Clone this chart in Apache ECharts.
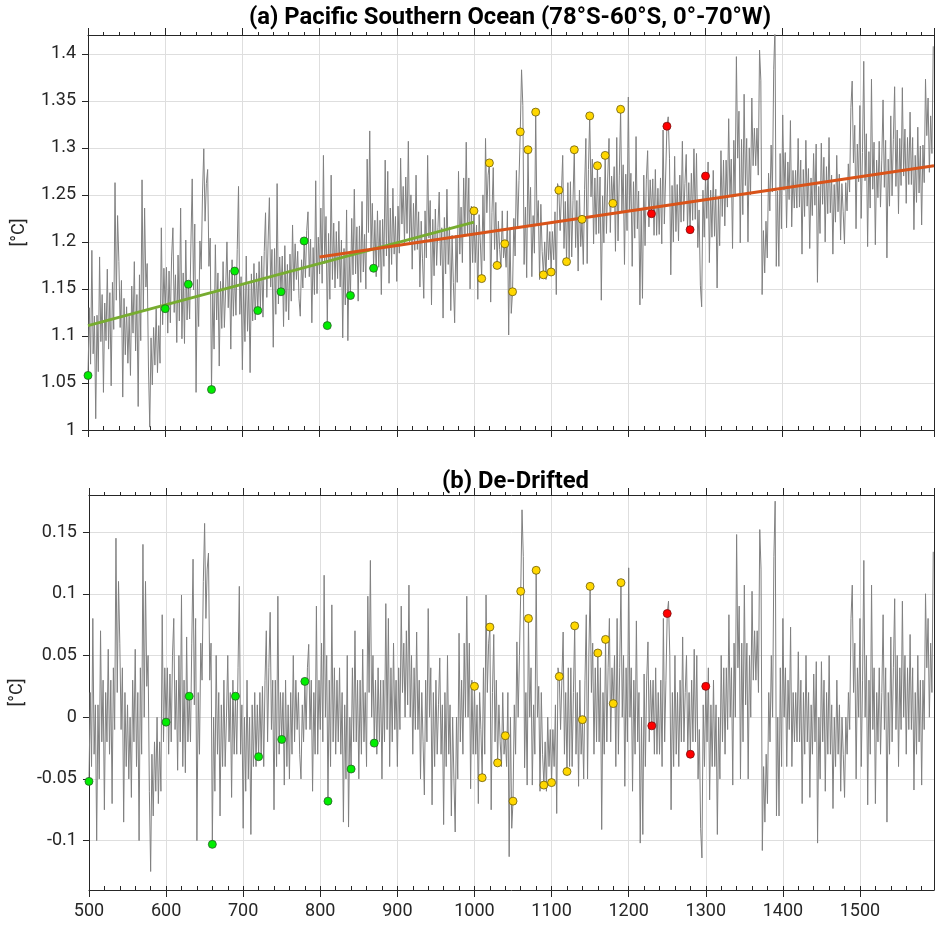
<!DOCTYPE html>
<html><head><meta charset="utf-8">
<script src="https://cdn.jsdelivr.net/npm/echarts@6/dist/echarts.min.js"></script>
<style>html,body{margin:0;padding:0;background:#fff}#c{width:935px;height:926px}</style>
</head><body><div id="c"></div>
<script>
// ---- data: samples every 5/3 year starting at 500 ----
const startYear = 500, stepYear = 5 / 3;
const rawTemp = [
1.058,1.130,1.070,1.191,1.081,1.121,1.012,1.122,1.062,1.184,1.094,1.144,1.040,1.135,1.095,
1.171,1.086,1.146,1.047,1.157,1.107,1.263,1.138,1.228,1.179,1.109,1.159,1.035,1.140,1.080,
1.131,1.071,1.121,1.058,1.153,1.103,1.179,1.084,1.144,1.025,1.165,1.095,1.266,1.126,1.236,
1.152,1.177,1.067,1.003,1.098,1.048,1.109,1.069,1.129,1.061,1.111,1.071,1.215,1.112,1.172,
1.129,1.173,1.103,1.169,1.114,1.184,1.215,1.125,1.165,1.093,1.186,1.116,1.236,1.097,1.167,
1.092,1.202,1.117,1.155,1.118,1.198,1.267,1.149,1.219,1.040,1.160,1.110,1.201,1.171,1.251,
1.299,1.222,1.262,1.277,1.174,1.204,1.043,1.146,1.086,1.197,1.117,1.167,1.068,1.158,1.108,
1.179,1.109,1.149,1.200,1.130,1.170,1.086,1.181,1.121,1.169,1.122,1.192,1.259,1.123,1.163,
1.064,1.154,1.094,1.185,1.105,1.155,1.061,1.166,1.116,1.177,1.117,1.167,1.127,1.179,1.129,
1.185,1.120,1.190,1.231,1.141,1.201,1.247,1.152,1.192,1.088,1.193,1.123,1.262,1.134,1.184,
1.147,1.185,1.110,1.196,1.126,1.176,1.117,1.187,1.137,1.218,1.148,1.198,1.160,1.190,1.140,
1.121,1.181,1.151,1.201,1.162,1.212,1.232,1.163,1.203,1.114,1.194,1.144,1.265,1.145,1.205,
1.166,1.236,1.156,1.292,1.177,1.227,1.111,1.209,1.139,1.271,1.160,1.220,1.151,1.211,1.161,
1.222,1.152,1.202,1.098,1.193,1.133,1.234,1.095,1.184,1.143,1.225,1.165,1.256,1.166,1.216,
1.137,1.217,1.157,1.243,1.168,1.208,1.150,1.288,1.210,1.318,1.191,1.241,1.172,1.223,1.163,
1.233,1.173,1.223,1.144,1.224,1.174,1.287,1.185,1.275,1.156,1.236,1.176,1.257,1.187,1.227,
1.158,1.238,1.188,1.289,1.219,1.259,1.199,1.269,1.209,1.307,1.200,1.250,1.171,1.241,1.191,
1.271,1.192,1.232,1.152,1.222,1.182,1.140,1.233,1.183,1.292,1.204,1.244,1.133,1.224,1.164,
1.235,1.175,1.215,1.253,1.175,1.215,1.119,1.226,1.166,1.256,1.176,1.216,1.127,1.207,1.157,
1.114,1.207,1.157,1.275,1.187,1.237,1.178,1.268,1.208,1.306,1.208,1.268,1.150,1.238,1.178,
1.233,1.178,1.218,1.139,1.229,1.199,1.161,1.250,1.180,1.310,1.231,1.271,1.284,1.136,1.231,
1.279,1.192,1.242,1.175,1.222,1.192,1.173,1.233,1.183,1.198,1.173,1.233,1.101,1.214,1.124,
1.147,1.225,1.185,1.276,1.215,1.265,1.317,1.383,1.345,1.176,1.237,1.162,1.298,1.218,1.258,
1.163,1.228,1.188,1.338,1.219,1.244,1.160,1.240,1.190,1.165,1.200,1.160,1.221,1.181,1.211,
1.168,1.211,1.181,1.232,1.144,1.262,1.255,1.212,1.252,1.292,1.193,1.243,1.179,1.263,1.183,
1.264,1.184,1.244,1.298,1.194,1.244,1.169,1.255,1.195,1.224,1.176,1.256,1.310,1.177,1.277,
1.334,1.248,1.288,1.198,1.268,1.208,1.281,1.209,1.269,1.138,1.249,1.199,1.292,1.209,1.269,
1.310,1.210,1.270,1.241,1.280,1.190,1.311,1.201,1.271,1.341,1.232,1.282,1.176,1.272,1.212,
1.354,1.233,1.273,1.174,1.264,1.204,1.312,1.214,1.254,1.133,1.235,1.140,1.271,1.196,1.266,
1.297,1.216,1.266,1.230,1.267,1.207,1.277,1.207,1.257,1.208,1.268,1.198,1.319,1.219,1.269,
1.323,1.333,1.289,1.165,1.260,1.200,1.291,1.211,1.261,1.201,1.271,1.221,1.307,1.222,1.262,
1.293,1.213,1.263,1.213,1.273,1.223,1.299,1.224,1.294,1.194,1.234,1.154,1.131,1.255,1.205,
1.270,1.225,1.285,1.178,1.255,1.205,1.276,1.206,1.256,1.151,1.246,1.196,1.297,1.227,1.287,
1.217,1.287,1.237,1.331,1.248,1.288,1.193,1.308,1.248,1.397,1.289,1.339,1.199,1.309,1.229,
1.357,1.260,1.310,1.200,1.300,1.250,1.353,1.281,1.321,1.281,1.321,1.271,1.404,1.372,1.144,
1.212,1.167,1.222,1.183,1.273,1.233,1.303,1.253,1.383,1.429,1.174,1.254,1.174,1.294,1.214,
1.335,1.255,1.295,1.215,1.285,1.245,1.329,1.216,1.276,1.236,1.276,1.236,1.310,1.237,1.287,
1.187,1.277,1.227,1.308,1.238,1.278,1.193,1.268,1.228,1.294,1.239,1.304,1.157,1.259,1.209,
1.305,1.240,1.290,1.200,1.280,1.230,1.311,1.231,1.271,1.187,1.261,1.221,1.292,1.232,1.272,
1.202,1.262,1.232,1.198,1.263,1.233,1.283,1.253,1.343,1.371,1.284,1.324,1.214,1.304,1.264,
1.345,1.225,1.295,1.392,1.265,1.315,1.195,1.296,1.236,1.373,1.256,1.306,1.197,1.287,1.247,
1.307,1.237,1.287,1.351,1.258,1.308,1.183,1.288,1.238,1.334,1.249,1.309,1.365,1.259,1.319,
1.230,1.310,1.260,1.364,1.270,1.320,1.241,1.311,1.261,1.338,1.261,1.311,1.213,1.292,1.242,
1.322,1.252,1.302,1.218,1.303,1.263,1.373,1.313,1.353,1.274,1.334,1.294,1.408
];
const dedriftTemp = [
-0.052,0.020,-0.040,0.080,-0.030,0.010,-0.100,0.010,-0.050,0.070,-0.020,0.030,-0.075,0.020,-0.020,
0.055,-0.030,0.030,-0.070,0.040,-0.010,0.145,0.020,0.110,0.060,-0.010,0.040,-0.085,0.020,-0.040,
0.010,-0.050,0.000,-0.065,0.030,-0.020,0.055,-0.040,0.020,-0.100,0.040,-0.030,0.140,0.000,0.110,
0.025,0.050,-0.060,-0.125,-0.030,-0.080,-0.020,-0.060,0.000,-0.070,-0.020,-0.060,0.083,-0.020,0.040,
-0.004,0.040,-0.030,0.035,-0.020,0.050,0.080,-0.010,0.030,-0.043,0.050,-0.020,0.099,-0.040,0.030,
-0.045,0.065,-0.020,0.017,-0.020,0.060,0.128,0.010,0.080,-0.100,0.020,-0.030,0.060,0.030,0.110,
0.157,0.080,0.120,0.133,0.030,0.060,-0.103,0.000,-0.060,0.050,-0.030,0.020,-0.080,0.010,-0.040,
0.030,-0.040,0.000,0.050,-0.020,0.020,-0.065,0.030,-0.030,0.017,-0.030,0.040,0.106,-0.030,0.010,
-0.090,0.000,-0.060,0.030,-0.050,0.000,-0.095,0.010,-0.040,0.020,-0.040,0.010,-0.032,0.020,-0.030,
0.025,-0.040,0.030,0.070,-0.020,0.040,0.085,-0.010,0.030,-0.075,0.030,-0.040,0.098,-0.030,0.020,
-0.018,0.020,-0.055,0.030,-0.040,0.010,-0.050,0.020,-0.030,0.050,-0.020,0.030,-0.010,0.020,-0.030,
-0.050,0.010,-0.020,0.029,-0.010,0.040,0.059,-0.010,0.030,-0.060,0.020,-0.030,0.090,-0.030,0.030,
-0.010,0.060,-0.020,0.115,0.000,0.050,-0.068,0.030,-0.040,0.091,-0.020,0.040,-0.030,0.030,-0.020,
0.040,-0.030,0.020,-0.085,0.010,-0.050,0.050,-0.089,0.000,-0.042,0.040,-0.020,0.070,-0.020,0.030,
-0.050,0.030,-0.030,0.055,-0.020,0.020,-0.040,0.098,0.020,0.127,0.000,0.050,-0.021,0.030,-0.030,
0.040,-0.020,0.030,-0.050,0.030,-0.020,0.092,-0.010,0.080,-0.040,0.040,-0.020,0.060,-0.010,0.030,
-0.040,0.040,-0.010,0.090,0.020,0.060,0.000,0.070,0.010,0.107,0.000,0.050,-0.030,0.040,-0.010,
0.069,-0.010,0.030,-0.050,0.020,-0.020,-0.063,0.030,-0.020,0.088,0.000,0.040,-0.071,0.020,-0.040,
0.030,-0.030,0.010,0.048,-0.030,0.010,-0.087,0.020,-0.040,0.050,-0.030,0.010,-0.080,0.000,-0.050,
-0.093,0.000,-0.050,0.068,-0.020,0.030,-0.030,0.060,0.000,0.098,0.000,0.060,-0.058,0.030,-0.030,
0.025,-0.030,0.010,-0.070,0.020,-0.010,-0.049,0.040,-0.030,0.099,0.020,0.060,0.073,-0.075,0.020,
0.067,-0.020,0.030,-0.037,0.010,-0.020,-0.040,0.020,-0.030,-0.015,-0.040,0.020,-0.113,0.000,-0.090,
-0.068,0.010,-0.030,0.061,0.000,0.050,0.102,0.168,0.130,-0.041,0.020,-0.055,0.080,0.000,0.040,
-0.055,0.010,-0.030,0.119,0.000,0.025,-0.060,0.020,-0.030,-0.055,-0.020,-0.060,0.000,-0.040,-0.010,
-0.053,-0.010,-0.040,0.010,-0.078,0.040,0.033,-0.010,0.030,0.069,-0.030,0.020,-0.044,0.040,-0.040,
0.040,-0.040,0.020,0.074,-0.030,0.020,-0.056,0.030,-0.030,-0.002,-0.050,0.030,0.083,-0.050,0.050,
0.106,0.020,0.060,-0.030,0.040,-0.020,0.052,-0.020,0.040,-0.091,0.020,-0.030,0.063,-0.020,0.040,
0.080,-0.020,0.040,0.011,0.050,-0.040,0.080,-0.030,0.040,0.109,0.000,0.050,-0.056,0.040,-0.020,
0.121,0.000,0.040,-0.060,0.030,-0.030,0.078,-0.020,0.020,-0.102,0.000,-0.095,0.035,-0.040,0.030,
0.061,-0.020,0.030,-0.007,0.030,-0.030,0.040,-0.030,0.020,-0.030,0.030,-0.040,0.080,-0.020,0.030,
0.084,0.094,0.050,-0.075,0.020,-0.040,0.050,-0.030,0.020,-0.040,0.030,-0.020,0.065,-0.020,0.020,
0.050,-0.030,0.020,-0.030,0.030,-0.020,0.055,-0.020,0.050,-0.050,-0.010,-0.090,-0.114,0.010,-0.040,
0.025,-0.020,0.040,-0.067,0.010,-0.040,0.030,-0.040,0.010,-0.095,0.000,-0.050,0.050,-0.020,0.040,
-0.030,0.040,-0.010,0.083,0.000,0.040,-0.055,0.060,0.000,0.148,0.040,0.090,-0.050,0.060,-0.020,
0.107,0.010,0.060,-0.050,0.050,0.000,0.102,0.030,0.070,0.030,0.070,0.020,0.152,0.120,-0.108,
-0.040,-0.085,-0.030,-0.070,0.020,-0.020,0.050,0.000,0.130,0.175,-0.080,0.000,-0.080,0.040,-0.040,
0.080,0.000,0.040,-0.040,0.030,-0.010,0.073,-0.040,0.020,-0.020,0.020,-0.020,0.053,-0.020,0.030,
-0.070,0.020,-0.030,0.050,-0.020,0.020,-0.065,0.010,-0.030,0.035,-0.020,0.045,-0.102,0.000,-0.050,
0.045,-0.020,0.030,-0.060,0.020,-0.030,0.050,-0.030,0.010,-0.074,0.000,-0.040,0.030,-0.030,0.010,
-0.060,0.000,-0.030,-0.065,0.000,-0.030,0.020,-0.010,0.080,0.107,0.020,0.060,-0.050,0.040,0.000,
0.080,-0.040,0.030,0.127,0.000,0.050,-0.071,0.030,-0.030,0.107,-0.010,0.040,-0.070,0.020,-0.020,
0.040,-0.030,0.020,0.083,-0.010,0.040,-0.085,0.020,-0.030,0.065,-0.020,0.040,0.096,-0.010,0.050,
-0.040,0.040,-0.010,0.094,0.000,0.050,-0.030,0.040,-0.010,0.067,-0.010,0.040,-0.059,0.020,-0.030,
0.050,-0.020,0.030,-0.055,0.030,-0.010,0.100,0.040,0.080,0.000,0.060,0.020,0.134
];
const greenYears = [500,600,630,660,690,720,750,780,810,840,870];
const greenTop = [1.058,1.129,1.155,1.043,1.169,1.127,1.147,1.201,1.111,1.143,1.172];
const greenBot = [-0.052,-0.004,0.017,-0.103,0.017,-0.032,-0.018,0.029,-0.068,-0.042,-0.021];
const yellowYears = [1000,1010,1020,1030,1040,1050,1060,1070,1080,1090,1100,1110,1120,1130,1140,1150,1160,1170,1180,1190];
const yellowTop = [1.233,1.161,1.284,1.175,1.198,1.147,1.317,1.298,1.338,1.165,1.168,1.255,1.179,1.298,1.224,1.334,1.281,1.292,1.241,1.341];
const yellowBot = [0.025,-0.049,0.073,-0.037,-0.015,-0.068,0.102,0.080,0.119,-0.055,-0.053,0.033,-0.044,0.074,-0.002,0.106,0.052,0.063,0.011,0.109];
const redYears = [1230,1250,1280,1300];
const redTop = [1.230,1.323,1.213,1.270];
const redBot = [-0.007,0.084,-0.030,0.025];
const greenTrendYears = [500,1000];
const greenTrendVals = [1.111,1.221];
const orangeTrendYears = [800,1596];
const orangeTrendVals = [1.184,1.281];
const yTicksTop = [1,1.05,1.1,1.15,1.2,1.25,1.3,1.35,1.4];
const yTicksBot = [-0.1,-0.05,0,0.05,0.1,0.15];
const titleA = '(a) Pacific Southern Ocean (78°S-60°S, 0°-70°W)';
const titleB = '(b) De-Drifted';
const yName = '[°C]';

// ---- build ----
const years = rawTemp.map((_, i) => startYear + stepYear * i);
const pairs = (xs, ys) => xs.map((x, i) => [x, ys[i]]);
const FONT = 'Roboto';
const DARK = '#262626';
const GRIDC = '#dedede';
const XMIN = 500, XMAX = 1596;

function xAxes(gridIndex, labels) {
  return [
    { type:'value', gridIndex, min:XMIN, max:XMAX, interval:100, position:'bottom',
      axisLine:{show:true, onZero:false, lineStyle:{color:DARK, width:1}},
      axisTick:{show:true, inside:false, length:7, lineStyle:{color:DARK}},
      minorTick:{show:false},
      splitLine:{show:true, lineStyle:{color:GRIDC, width:1}},
      axisLabel:{show:labels, color:DARK, fontFamily:FONT, fontSize:18, margin:12, showMaxLabel:false,
        formatter:(v) => String(v)} },
    { type:'value', gridIndex, min:XMIN, max:XMAX, interval:100, position:'bottom',
      axisLine:{show:false, onZero:false},
      axisTick:{show:true, inside:true, length:4, lineStyle:{color:DARK}},
      minorTick:{show:true, splitNumber:5, length:4, lineStyle:{color:DARK}},
      splitLine:{show:false}, axisLabel:{show:false} },
    { type:'value', gridIndex, min:XMIN, max:XMAX, interval:100, position:'top',
      axisLine:{show:true, onZero:false, lineStyle:{color:DARK, width:1}},
      axisTick:{show:true, inside:false, length:7, lineStyle:{color:DARK}},
      minorTick:{show:true, splitNumber:5, length:3, lineStyle:{color:DARK}},
      splitLine:{show:false}, axisLabel:{show:false} }
  ];
}
function yAxes(gridIndex, min, max, ticks) {
  return [
    { type:'value', gridIndex, min, max, position:'left',
      name:yName, nameLocation:'middle', nameRotate:90, nameGap:60,
      nameTextStyle:{color:DARK, fontFamily:FONT, fontSize:18},
      axisLine:{show:true, onZero:false, lineStyle:{color:DARK, width:1}},
      axisTick:{show:true, inside:false, length:6, lineStyle:{color:DARK}, customValues:ticks},
      splitLine:{show:true, lineStyle:{color:GRIDC, width:1}},
      axisLabel:{color:DARK, fontFamily:FONT, fontSize:18, margin:12, customValues:ticks,
        formatter:(v) => String(+v.toFixed(3))} },
    { type:'value', gridIndex, min, max, position:'right',
      axisLine:{show:true, onZero:false, lineStyle:{color:DARK, width:1}},
      axisTick:{show:false}, splitLine:{show:false}, axisLabel:{show:false} }
  ];
}
function dots(xi, yi, xs, ys, color, border) {
  return { type:'scatter', xAxisIndex:xi, yAxisIndex:yi, data:pairs(xs, ys), symbol:'circle', symbolSize:8,
    itemStyle:{color, borderColor:border, borderWidth:0.8, opacity:1}, z:5 };
}
const option = {
  animation:false,
  backgroundColor:'#fff',
  title:[
    { text:titleA, left:244, top:1, textStyle:{fontFamily:FONT, fontWeight:'bold', fontSize:23.8, color:'#000'} },
    { text:titleB, left:437, top:465, textStyle:{fontFamily:FONT, fontWeight:'bold', fontSize:23.8, color:'#000'} }
  ],
  grid:[
    { left:88, right:1, top:35, height:395 },
    { left:88, right:1, top:495, height:395 }
  ],
  xAxis:[...xAxes(0,false), ...xAxes(1,true)],
  yAxis:[...yAxes(0, 1.0, 1.42, yTicksTop), ...yAxes(1, -0.14, 0.18, yTicksBot)],
  series:[
    { type:'line', xAxisIndex:0, yAxisIndex:0, data:pairs(years, rawTemp), showSymbol:false, symbol:'none',
      lineStyle:{color:'#808080', width:1}, z:2 },
    { type:'line', xAxisIndex:0, yAxisIndex:0, data:pairs(greenTrendYears, greenTrendVals), symbol:'none',
      lineStyle:{color:'#77AC30', width:3}, z:3 },
    { type:'line', xAxisIndex:0, yAxisIndex:0, data:pairs(orangeTrendYears, orangeTrendVals), symbol:'none',
      lineStyle:{color:'#D95319', width:3}, z:3 },
    dots(0,0, greenYears, greenTop, '#00ee00', '#2d5a2d'),
    dots(0,0, yellowYears, yellowTop, '#ffd700', '#6a5a10'),
    dots(0,0, redYears, redTop, '#ff0000', '#7a1010'),
    { type:'line', xAxisIndex:3, yAxisIndex:2, data:pairs(years, dedriftTemp), showSymbol:false, symbol:'none',
      lineStyle:{color:'#808080', width:1}, z:2 },
    dots(3,2, greenYears, greenBot, '#00ee00', '#2d5a2d'),
    dots(3,2, yellowYears, yellowBot, '#ffd700', '#6a5a10'),
    dots(3,2, redYears, redBot, '#ff0000', '#7a1010')
  ]
};
const chart = echarts.init(document.getElementById('c'), null, {renderer:'canvas'});
chart.setOption(option);
</script>
</body></html>
